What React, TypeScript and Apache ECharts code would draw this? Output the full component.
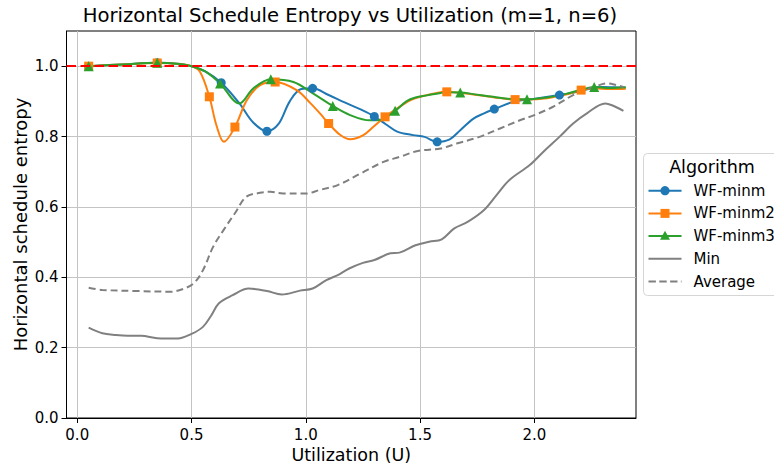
import React, { useEffect, useRef } from 'react';
import * as echarts from 'echarts';

const FONT = '"DejaVu Sans", Verdana, sans-serif';
const C_MINM = '#1f77b4';
const C_MINM2 = '#ff7f0e';
const C_MINM3 = '#2ca02c';
const C_GRAY = '#808080';
const C_RED = '#ff0000';

const TITLE = 'Horizontal Schedule Entropy vs Utilization (m=1, n=6)';
const X_NAME = 'Utilization (U)';
const Y_NAME = 'Horizontal schedule entropy';
const LEGEND_TITLE = 'Algorithm';
const NAMES = ['WF-minm', 'WF-minm2', 'WF-minm3', 'Min', 'Average'];

const xTicks = [0, 0.5, 1.0, 1.5, 2.0];
const yTicks = [0, 0.2, 0.4, 0.6, 0.8, 1.0];
const refLevel = 1.0;

// WF-minm
const minmU = [0.05, 0.2, 0.35, 0.45, 0.5, 0.56, 0.63, 0.71, 0.77, 0.83, 0.88, 0.93, 0.98, 1.03, 1.1, 1.17, 1.24, 1.3, 1.35, 1.4, 1.47, 1.52, 1.575, 1.63, 1.676, 1.734, 1.78, 1.825, 1.91, 2.01, 2.11, 2.19, 2.25, 2.3, 2.35, 2.4];
const minmH = [1.0, 1.005, 1.01, 1.006, 1.0, 0.985, 0.953, 0.894, 0.84, 0.815, 0.835, 0.9, 0.935, 0.937, 0.918, 0.897, 0.877, 0.857, 0.835, 0.814, 0.804, 0.799, 0.785, 0.792, 0.818, 0.851, 0.866, 0.878, 0.899, 0.908, 0.918, 0.927, 0.937, 0.941, 0.94, 0.939];
const minmMarks = [0.05, 0.35, 0.63, 0.83, 1.03, 1.3, 1.575, 1.825, 2.11];

// WF-minm2
const minm2U = [0.05, 0.2, 0.35, 0.45, 0.5, 0.537, 0.578, 0.61, 0.642, 0.69, 0.742, 0.8, 0.866, 0.96, 1.02, 1.063, 1.1, 1.15, 1.194, 1.252, 1.296, 1.347, 1.4, 1.457, 1.5, 1.573, 1.617, 1.676, 1.72, 1.82, 1.916, 1.968, 2.055, 2.143, 2.205, 2.262, 2.33, 2.4];
const minm2H = [1.0, 1.005, 1.009, 1.006, 1.0, 0.984, 0.913, 0.83, 0.785, 0.827, 0.903, 0.946, 0.955, 0.932, 0.895, 0.865, 0.837, 0.805, 0.792, 0.804, 0.828, 0.856, 0.88, 0.903, 0.913, 0.924, 0.927, 0.924, 0.921, 0.912, 0.905, 0.905, 0.909, 0.92, 0.932, 0.937, 0.935, 0.936];
const minm2Marks = [0.05, 0.35, 0.578, 0.69, 0.866, 1.1, 1.347, 1.617, 1.916, 2.205];

// WF-minm3
const minm3U = [0.05, 0.2, 0.35, 0.45, 0.5, 0.56, 0.625, 0.709, 0.771, 0.847, 0.946, 1.033, 1.118, 1.194, 1.28, 1.33, 1.391, 1.44, 1.48, 1.53, 1.59, 1.62, 1.676, 1.72, 1.82, 1.916, 1.968, 2.055, 2.143, 2.205, 2.262, 2.33, 2.4];
const minm3H = [1.0, 1.005, 1.01, 1.006, 1.0, 0.985, 0.951, 0.894, 0.937, 0.963, 0.955, 0.922, 0.887, 0.861, 0.846, 0.848, 0.873, 0.9, 0.911, 0.917, 0.924, 0.926, 0.925, 0.922, 0.913, 0.906, 0.906, 0.911, 0.922, 0.933, 0.941, 0.938, 0.94];
const minm3Marks = [0.05, 0.35, 0.625, 0.847, 1.118, 1.391, 1.676, 1.968, 2.262];

// Min
const minU = [0.05, 0.11, 0.17, 0.22, 0.28, 0.35, 0.44, 0.5, 0.55, 0.585, 0.62, 0.68, 0.75, 0.83, 0.895, 0.975, 1.03, 1.09, 1.14, 1.19, 1.25, 1.3, 1.37, 1.41, 1.48, 1.54, 1.595, 1.65, 1.71, 1.78, 1.84, 1.89, 1.98, 2.04, 2.11, 2.17, 2.23, 2.31, 2.34, 2.39];
const minH = [0.257, 0.241, 0.236, 0.234, 0.234, 0.227, 0.226, 0.239, 0.259, 0.29, 0.326, 0.349, 0.368, 0.361, 0.351, 0.362, 0.368, 0.392, 0.406, 0.425, 0.441, 0.449, 0.468, 0.47, 0.491, 0.501, 0.508, 0.539, 0.558, 0.591, 0.638, 0.676, 0.719, 0.757, 0.799, 0.837, 0.866, 0.894, 0.889, 0.873];

// Average
const avgU = [0.05, 0.11, 0.26, 0.41, 0.46, 0.51, 0.55, 0.595, 0.64, 0.69, 0.74, 0.8, 0.845, 0.9, 1.0, 1.06, 1.14, 1.24, 1.34, 1.41, 1.49, 1.59, 1.66, 1.76, 1.85, 1.94, 2.0, 2.08, 2.17, 2.22, 2.26, 2.32, 2.36, 2.39];
const avgH = [0.37, 0.364, 0.361, 0.359, 0.366, 0.383, 0.42, 0.487, 0.534, 0.582, 0.629, 0.64, 0.643, 0.638, 0.638, 0.648, 0.662, 0.695, 0.728, 0.742, 0.759, 0.766, 0.78, 0.799, 0.823, 0.847, 0.861, 0.884, 0.918, 0.932, 0.941, 0.951, 0.946, 0.941];

function markedData(us: number[], hs: number[], marks: number[], sym: string) {
  return us.map((u, i) => ({ value: [u, hs[i]], symbol: marks.includes(u) ? sym : 'none' }));
}

export default function App() {
  const ref = useRef<HTMLDivElement>(null);
  useEffect(() => {
    if (!ref.current) return;
    const chart = echarts.init(ref.current, null, { renderer: 'svg' });

    const gridLeft = 66.5;
    const gridRight = 138;
    const gridTop = 31;
    const gridBottom = 46;

    const lineSeries = (name: string, us: number[], hs: number[], marks: number[], sym: string, size: number, color: string) => ({
      type: 'line',
      name,
      data: markedData(us, hs, marks, sym),
      symbol: sym,
      symbolSize: size,
      showSymbol: true,
      showAllSymbol: true,
      smooth: 0.35,
      lineStyle: { color, width: 2 },
      itemStyle: { color, borderWidth: 0 },
      emphasis: { disabled: true },
    });

    const legendRows = [190.7, 213.4, 236.1, 258.8, 281.5];
    const lx1 = 648.5;
    const lx2 = 681.5;
    const lmx = (lx1 + lx2) / 2;
    const legendColors = [C_MINM, C_MINM2, C_MINM3, C_GRAY, C_GRAY];
    const legendEls: any[] = [
      {
        type: 'rect',
        shape: { x: 643.5, y: 153.5, width: 145, height: 142, r: 4 },
        style: { fill: '#ffffff', stroke: '#d6d6d6', lineWidth: 1 },
        z: 10,
      },
      {
        type: 'text',
        style: { text: LEGEND_TITLE, x: 712, y: 167, align: 'center', verticalAlign: 'middle', fontSize: 17.5, fontFamily: FONT, fill: '#000' },
        z: 11,
      },
    ];
    legendRows.forEach((ry, i) => {
      legendEls.push({
        type: 'line',
        shape: { x1: lx1, y1: ry, x2: lx2, y2: ry },
        style: { stroke: legendColors[i], lineWidth: 2, lineDash: i === 4 ? [7.4, 3.4] : null },
        z: 11,
      });
      legendEls.push({
        type: 'text',
        style: { text: NAMES[i], x: 693.5, y: ry, align: 'left', verticalAlign: 'middle', fontSize: 15, fontFamily: FONT, fill: '#000' },
        z: 11,
      });
    });
    legendEls.push({ type: 'circle', shape: { cx: lmx, cy: legendRows[0], r: 4.6 }, style: { fill: C_MINM }, z: 12 });
    legendEls.push({ type: 'rect', shape: { x: lmx - 4.5, y: legendRows[1] - 4.5, width: 9, height: 9 }, style: { fill: C_MINM2 }, z: 12 });
    legendEls.push({
      type: 'polygon',
      shape: { points: [[lmx, legendRows[2] - 5.3], [lmx + 5, legendRows[2] + 3.7], [lmx - 5, legendRows[2] + 3.7]] },
      style: { fill: C_MINM3 },
      z: 12,
    });

    chart.setOption({
      animation: false,
      textStyle: { fontFamily: FONT },
      grid: {
        left: gridLeft,
        right: gridRight,
        top: gridTop,
        bottom: gridBottom,
        show: true,
        borderColor: '#000',
        borderWidth: 1,
        backgroundColor: 'transparent',
        containLabel: false,
        outerBoundsMode: 'none',
      },
      graphic: [
        {
          type: 'text',
          style: { text: TITLE, x: 350, y: 15.5, align: 'center', verticalAlign: 'middle', fontSize: 19.6, fontFamily: FONT, fill: '#000' },
        },
        ...legendEls,
      ],
      xAxis: {
        type: 'value',
        min: -0.047,
        max: 2.445,
        splitNumber: 5,
        name: X_NAME,
        nameLocation: 'middle',
        nameGap: 28,
        nameMoveOverlap: false,
        nameTextStyle: { fontSize: 17.5, color: '#000', fontFamily: FONT },
        axisLine: { show: true, onZero: false, lineStyle: { color: '#000', width: 1 } },
        axisTick: { show: true, inside: false, length: 5, lineStyle: { color: '#000', width: 1 }, customValues: xTicks },
        axisLabel: {
          show: true,
          interval: 0,
          hideOverlap: false,
          margin: 9,
          fontSize: 15,
          color: '#000',
          fontFamily: FONT,
          customValues: xTicks,
          formatter: (v: number) => v.toFixed(1),
        },
        splitLine: { show: true, lineStyle: { color: '#c4c4c4', width: 1 } },
      },
      yAxis: {
        type: 'value',
        min: 0,
        max: 1.1,
        interval: 0.2,
        name: Y_NAME,
        nameLocation: 'middle',
        nameGap: 37,
        nameMoveOverlap: false,
        nameTextStyle: { fontSize: 18, color: '#000', fontFamily: FONT },
        axisLine: { show: true, onZero: false, lineStyle: { color: '#000', width: 1 } },
        axisTick: { show: true, inside: false, length: 5, lineStyle: { color: '#000', width: 1 }, customValues: yTicks },
        axisLabel: {
          show: true,
          interval: 0,
          hideOverlap: false,
          margin: 8,
          fontSize: 15,
          color: '#000',
          fontFamily: FONT,
          customValues: yTicks,
          formatter: (v: number) => v.toFixed(1),
        },
        splitLine: { show: true, lineStyle: { color: '#c4c4c4', width: 1 } },
      },
      series: [
        lineSeries(NAMES[0], minmU, minmH, minmMarks, 'circle', 9, C_MINM),
        lineSeries(NAMES[1], minm2U, minm2H, minm2Marks, 'rect', 9, C_MINM2),
        lineSeries(NAMES[2], minm3U, minm3H, minm3Marks, 'triangle', 10, C_MINM3),
        {
          type: 'line',
          name: NAMES[3],
          data: minU.map((u, i) => [u, minH[i]]),
          symbol: 'none',
          smooth: 0.35,
          lineStyle: { color: C_GRAY, width: 2 },
          itemStyle: { color: C_GRAY },
          emphasis: { disabled: true },
        },
        {
          type: 'line',
          name: NAMES[4],
          data: avgU.map((u, i) => [u, avgH[i]]),
          symbol: 'none',
          smooth: 0.35,
          lineStyle: { color: C_GRAY, width: 2, type: [7, 4] },
          itemStyle: { color: C_GRAY },
          emphasis: { disabled: true },
          markLine: {
            silent: true,
            symbol: ['none', 'none'],
            label: { show: false },
            lineStyle: { color: C_RED, width: 2, type: [9.5, 4.5] },
            emphasis: { disabled: true },
            data: [{ yAxis: refLevel }],
          },
        },
      ],
    });
    return () => chart.dispose();
  }, []);

  return <div ref={ref} style={{ position: 'absolute', left: 0, top: 0, width: 774, height: 464 }} />;
}
